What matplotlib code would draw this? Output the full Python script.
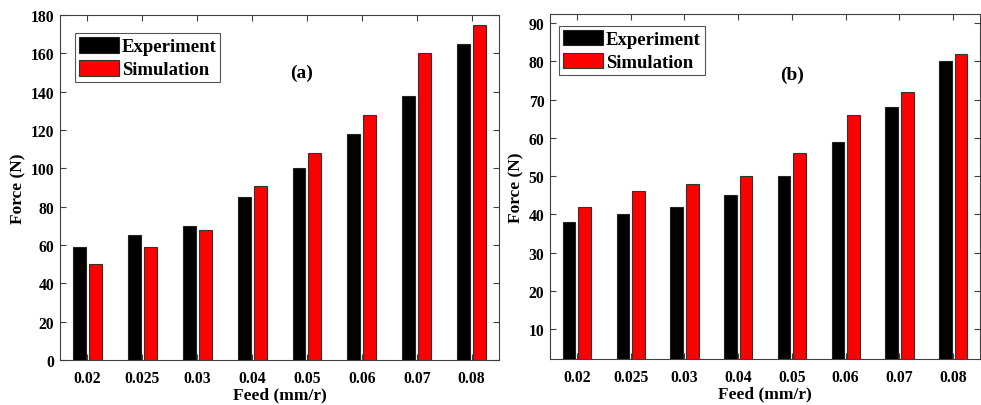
import numpy as np
import matplotlib
matplotlib.use('Agg')
from matplotlib import pyplot as plt

plt.rcParams['font.family'] = ['Liberation Serif', 'DejaVu Serif']
plt.rcParams['font.weight'] = 'bold'

feeds = ['0.02', '0.025', '0.03', '0.04', '0.05', '0.06', '0.07', '0.08']

# panel (a)
exp_a = [59, 65, 70, 85, 100, 118, 138, 165]
sim_a = [50, 59, 68, 91, 108, 128, 160, 175]

# panel (b)
exp_b = [38, 40, 42, 45, 50, 59, 68, 80]
sim_b = [42, 46, 48, 50, 56, 66, 72, 82]

fig = plt.figure(figsize=(9.81, 4.06), dpi=100)
ax1 = fig.add_axes([0.0612, 0.1108, 0.4475, 0.8498])
ax2 = fig.add_axes([0.5607, 0.1133, 0.4383, 0.8497])

x = np.arange(1, len(feeds) + 1)
w = 0.235
off = 0.145


def draw(ax, exp, sim, ylim, yticks, tag, tag_xy, leg_anchor):
    ax.bar(x - off, exp, w, color='black', edgecolor='#222222', linewidth=0.8,
           label='Experiment')
    ax.bar(x + off, sim, w, color='#ff0000', edgecolor='#333333', linewidth=0.8,
           label='Simulation')
    ax.set_xlim(0.5, 8.5)
    ax.set_ylim(*ylim)
    ax.set_yticks(yticks)
    ax.set_xticks(x)
    ax.set_xticklabels(feeds)
    ax.tick_params(direction='in', length=4, width=0.8, color='#404040',
                   labelsize=11.3, top=True, right=True)
    ax.tick_params(axis='x', pad=7)
    ax.tick_params(axis='y', pad=4)
    for lab in ax.get_xticklabels() + ax.get_yticklabels():
        lab.set_fontweight('bold')
    for s in ax.spines.values():
        s.set_color('#404040')
        s.set_linewidth(0.8)
    ax.set_xlabel('Feed (mm/r)', fontsize=12.5, fontweight='bold', labelpad=0.5)
    ax.set_ylabel('Force (N)', fontsize=12.5, fontweight='bold', labelpad=3)
    ax.text(tag_xy[0], tag_xy[1], tag, fontsize=14, fontweight='bold',
            ha='center', va='center')
    leg = ax.legend(loc='upper left', bbox_to_anchor=leg_anchor,
                    prop={'weight': 'bold', 'size': 13.5},
                    handlelength=2.15, handleheight=0.9, handletextpad=0.15,
                    labelspacing=0.25, borderpad=0.2, borderaxespad=0,
                    fancybox=False, framealpha=1)
    leg.get_frame().set_edgecolor('#555555')
    leg.get_frame().set_linewidth(0.8)


draw(ax1, exp_a, sim_a, (0, 180), np.arange(0, 181, 20), '(a)', (4.9, 150),
     (0.034, 0.947))
draw(ax2, exp_b, sim_b, (2.2, 92.4), np.arange(10, 91, 10), '(b)', (5.0, 76.7),
     (0.021, 0.965))

fig.savefig('out.png', dpi=100)
